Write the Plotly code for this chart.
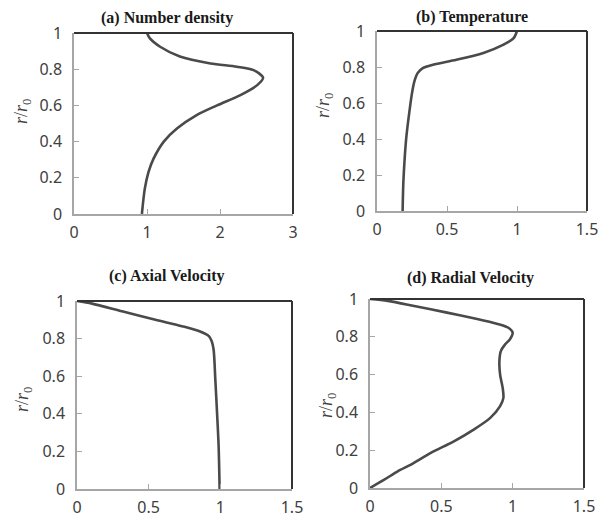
import plotly.graph_objects as go

# page body has an 8px margin, so the figure is placed at (8, 8) in the window
OFF = 8
W, H = 607 - OFF, 524 - OFF

# ---- data ----
r_a = [1.0, 0.97, 0.924, 0.87, 0.832, 0.814, 0.795, 0.753, 0.712, 0.657, 0.60, 0.546, 0.472, 0.40, 0.306, 0.232, 0.14, 0.0]
n_a = [1.0, 1.04, 1.18, 1.45, 1.87, 2.23, 2.46, 2.59, 2.51, 2.28, 1.96, 1.68, 1.41, 1.23, 1.09, 1.02, 0.97, 0.93]

r_b = [1.0, 0.96, 0.924, 0.878, 0.84, 0.813, 0.794, 0.766, 0.72, 0.655, 0.544, 0.414, 0.284, 0.154, 0.0]
t_b = [1.0, 0.976, 0.904, 0.76, 0.567, 0.40, 0.327, 0.29, 0.267, 0.25, 0.23, 0.21, 0.197, 0.188, 0.183]

r_c = [1.0, 0.986, 0.945, 0.90, 0.866, 0.84, 0.813, 0.786, 0.742, 0.583, 0.406, 0.23, 0.0]
u_c = [0.0, 0.105, 0.314, 0.547, 0.733, 0.85, 0.92, 0.94, 0.953, 0.965, 0.977, 0.988, 0.995]

r_d = [1.0, 0.99, 0.963, 0.928, 0.898, 0.869, 0.848, 0.822, 0.786, 0.76, 0.724, 0.671, 0.60, 0.53,
       0.477, 0.433, 0.371, 0.309, 0.247, 0.186, 0.124, 0.088, 0.044, 0.0]
v_d = [0.0, 0.125, 0.31, 0.54, 0.727, 0.889, 0.97, 1.0, 0.98, 0.947, 0.917, 0.907, 0.912, 0.93,
       0.935, 0.912, 0.843, 0.727, 0.588, 0.426, 0.287, 0.194, 0.10, 0.0]

titles = ["(a) Number density", "(b) Temperature", "(c) Axial Velocity", "(d) Radial Velocity"]
x_ticks_a = [0, 1, 2, 3]
x_ticks_other = [0, 0.5, 1, 1.5]
y_ticks = [0, 0.2, 0.4, 0.6, 0.8, 1]
y_label = "<i>r</i>/<i>r</i><sub>0</sub>"

series = [(n_a, r_a), (t_b, r_b), (u_c, r_c), (v_d, r_d)]
xranges = [[0, 3], [0, 1.5], [0, 1.5], [0, 1.5]]
xtickvals = [x_ticks_a, x_ticks_other, x_ticks_other, x_ticks_other]

# window-pixel boxes of plot areas (left, right, top, bottom)
boxes = [(74, 293, 33, 214), (377, 587, 31, 211), (77, 292, 301, 489), (370, 584, 299, 488)]
title_pos = [(167, 18), (472, 17), (167, 276), (470, 278)]
ylab_pos = [(22, 112), (324, 106), (23, 400), (327, 406)]


def px(x):
    return (x - OFF) / W


def py(y):
    return 1 - (y - OFF) / H


fig = go.Figure()
layout = dict(
    width=W, height=H, margin=dict(l=0, r=0, t=0, b=0, autoexpand=False),
    paper_bgcolor="white", plot_bgcolor="white", showlegend=False,
    annotations=[], shapes=[],
)

tick_font = dict(family="Noto Sans, sans-serif", size=16, color="#404040")

for i, ((xs, ys), box) in enumerate(zip(series, boxes)):
    k = "" if i == 0 else str(i + 1)
    l, rr, t, b = box
    fig.add_trace(go.Scatter(
        x=xs, y=ys, mode="lines", xaxis="x" + k, yaxis="y" + k,
        line=dict(color="#4a4a4a", width=2.6, shape="spline", smoothing=0.8),
        hoverinfo="skip",
    ))
    layout["xaxis" + k] = dict(
        domain=[px(l), px(rr)], anchor="y" + k, range=xranges[i], automargin=False,
        tickvals=xtickvals[i], ticktext=[("%g" % v) for v in xtickvals[i]],
        showgrid=False, zeroline=False, showline=True, linecolor="#a6a6a6", linewidth=1.5,
        ticks="inside", ticklen=5, tickcolor="#a6a6a6", tickwidth=1.2,
        tickfont=tick_font, ticklabelstandoff=3,
    )
    layout["yaxis" + k] = dict(
        domain=[py(b), py(t)], anchor="x" + k, range=[0, 1], automargin=False,
        tickvals=y_ticks, ticktext=[("%g" % v) for v in y_ticks],
        showgrid=False, zeroline=False, showline=True, linecolor="#a6a6a6", linewidth=1.5,
        ticks="inside", ticklen=5, tickcolor="#a6a6a6", tickwidth=1.2,
        tickfont=tick_font, ticklabelstandoff=7,
    )
    # dark top and right frame lines
    layout["shapes"].append(dict(type="line", xref="x" + k + " domain", yref="y" + k + " domain",
                                 x0=0, x1=1, y0=1, y1=1, line=dict(color="#333333", width=2.2)))
    layout["shapes"].append(dict(type="line", xref="x" + k + " domain", yref="y" + k + " domain",
                                 x0=1, x1=1, y0=0, y1=1, line=dict(color="#333333", width=2)))
    tx, ty = title_pos[i]
    layout["annotations"].append(dict(
        text="<b>" + titles[i] + "</b>", xref="paper", yref="paper",
        x=px(tx), y=py(ty), showarrow=False, xanchor="center", yanchor="middle",
        font=dict(family="Liberation Serif, Times New Roman, serif", size=16, color="#1a1a1a"),
    ))
    lx, ly = ylab_pos[i]
    layout["annotations"].append(dict(
        text=y_label, xref="paper", yref="paper", textangle=-90,
        x=px(lx), y=py(ly), showarrow=False, xanchor="center", yanchor="middle",
        font=dict(family="Liberation Serif, Times New Roman, serif", size=18, color="#404040"),
    ))

fig.update_layout(**layout)
fig.write_html("out.html")
